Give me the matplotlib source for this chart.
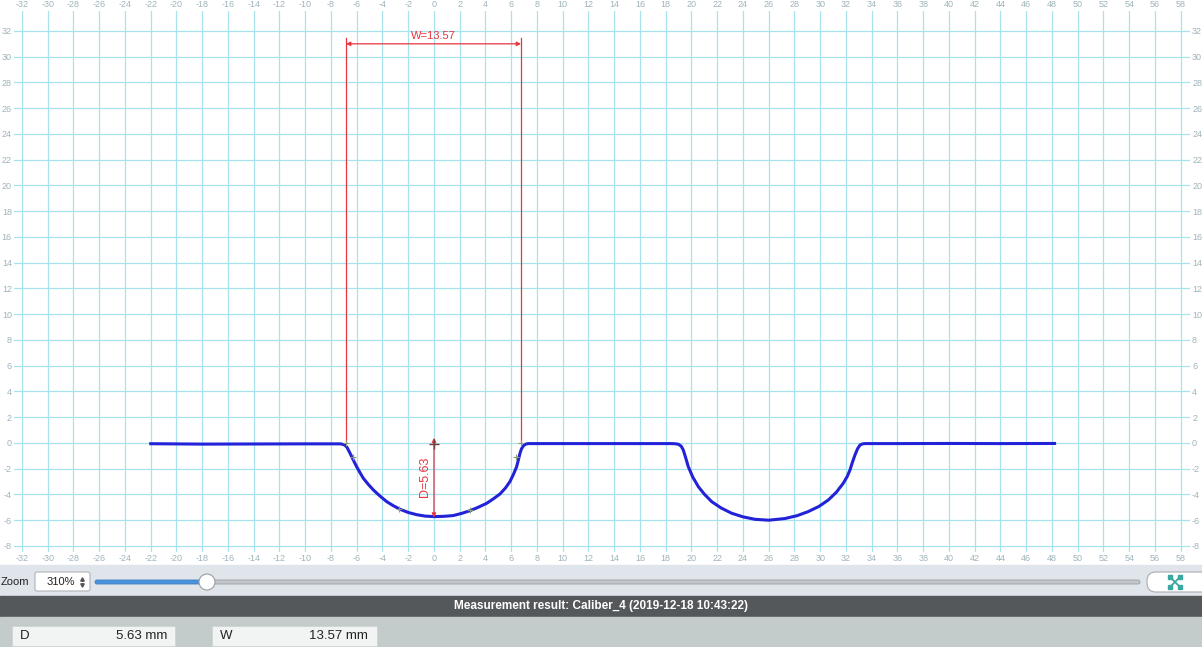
import matplotlib.pyplot as plt
import matplotlib.patches as patches

plt.rcParams['font.family'] = ['Liberation Sans', 'DejaVu Sans']
plt.rcParams['axes.unicode_minus'] = False

profile_x = [-22.0, -18.0, -14.0, -10.0, -7.6, -7.3, -7.1, -6.91, -6.75, -6.52, -6.28,
             -6.01, -5.75, -5.49, -5.1, -4.71, -4.2, -3.67, -3.15, -2.64, -2.0, -1.35,
             -0.7, 0.0, 0.75, 1.5, 2.15, 2.8, 3.45, 4.09, 4.6, 5.13, 5.55, 5.9, 6.18,
             6.42, 6.56, 6.68, 6.8, 6.94, 7.1, 7.32, 10.0, 14.0, 18.4, 18.7, 18.98,
             19.2, 19.36, 19.55, 19.75, 20.1, 20.53, 21.0, 21.57, 22.3, 23.12, 24.0,
             24.93, 26.0, 27.26, 28.2, 29.07, 29.9, 30.63, 31.25, 31.79, 32.1, 32.31,
             32.5, 32.7, 32.9, 33.09, 33.3, 33.48, 36.0, 40.0, 44.0, 48.2]
profile_y = [-0.06, -0.09, -0.08, -0.07, -0.07, -0.07, -0.1, -0.18, -0.35, -0.8, -1.3,
             -1.84, -2.3, -2.74, -3.22, -3.65, -4.12, -4.56, -4.88, -5.15, -5.4, -5.57,
             -5.68, -5.72, -5.7, -5.64, -5.47, -5.26, -4.99, -4.69, -4.35, -3.96, -3.5,
             -3.0, -2.42, -1.84, -1.3, -0.8, -0.45, -0.23, -0.1, -0.05, -0.05, -0.05,
             -0.05, -0.06, -0.1, -0.25, -0.54, -1.15, -1.84, -2.65, -3.39, -3.98, -4.56,
             -5.05, -5.46, -5.74, -5.93, -6.0, -5.87, -5.65, -5.33, -4.93, -4.43, -3.83,
             -3.13, -2.6, -2.1, -1.5, -0.93, -0.45, -0.16, -0.07, -0.05, -0.05, -0.04,
             -0.05, -0.04]

# measurement results
D = 5.63
W = 13.57
w_left = -6.83
w_right = 6.76
w_level = 31.0
d_top = 0.4
d_bottom = -5.8
marks_x = [-6.84, -6.3, -2.75, 2.8, 6.4, 6.76]
marks_y = [0.0, -1.1, -5.1, -5.2, -1.1, 0.0]

x_ticks = list(range(-32, 59, 2))
y_ticks = list(range(-8, 33, 2))

red = '#e8343f'
grid_col = '#a8e2ec'
lab_col = '#9fb4ba'

fig = plt.figure(figsize=(12.02, 6.47), dpi=100)

# ui strip at the bottom, pixel coordinates
ui = fig.add_axes([0, 0, 1, 1])
ui.set_xlim(0, 1202)
ui.set_ylim(647, 0)
ui.axis('off')
ui.add_patch(patches.Rectangle((0, 565), 1202, 31, color='#dfe5ea'))
ui.add_patch(patches.Rectangle((0, 596), 1202, 21, color='#55585b'))
ui.add_patch(patches.Rectangle((0, 617), 1202, 30, color='#c4cbcb'))
ui.text(1, 582, 'Zoom', fontsize=8, va='center', ha='left', color='#222222')
ui.add_patch(patches.FancyBboxPatch((35, 572), 55, 19, boxstyle='round,pad=0,rounding_size=2',
                                    fc='white', ec='#b0b4b8', lw=0.8))
ui.text(47, 582, '310%', fontsize=8, va='center', ha='left', color='#222222')
ui.plot([82], [579], marker='^', ms=2.5, color='#555555')
ui.plot([82], [585], marker='v', ms=2.5, color='#555555')
ui.add_patch(patches.FancyBboxPatch((205, 580), 935, 4, boxstyle='round,pad=0,rounding_size=2',
                                    fc='#c2c6ca', ec='#9a9ea2', lw=0.6))
ui.add_patch(patches.FancyBboxPatch((95, 580), 112, 4, boxstyle='round,pad=0,rounding_size=2',
                                    fc='#4a92dc', ec='#3f7fc0', lw=0.6))
ui.add_patch(patches.Circle((207, 582), 8, fc='white', ec='#9a9ea2', lw=0.8, zorder=5))
ui.add_patch(patches.FancyBboxPatch((1147, 572), 70, 20, boxstyle='round,pad=0,rounding_size=9',
                                    fc='white', ec='#a8acb0', lw=0.8))
ui.plot([1170, 1180], [577, 587], color='#3aa7a0', lw=1.3)
ui.plot([1170, 1180], [587, 577], color='#3aa7a0', lw=1.3)
ui.plot([1170, 1180, 1170, 1180], [577, 577, 587, 587], 's', ms=2.5, color='#3aa7a0')
ui.text(601, 606.5, 'Measurement result: Caliber_4 (2019-12-18 10:43:22)', fontsize=8.5,
        fontweight='bold', color='white', ha='center', va='center')
ui.add_patch(patches.Rectangle((12, 626), 163, 20, fc='#f2f3f3', ec='#d0d4d4', lw=0.6))
ui.add_patch(patches.Rectangle((212, 626), 165, 20, fc='#f2f3f3', ec='#d0d4d4', lw=0.6))
ui.text(20, 636, 'D', fontsize=9.5, va='center', color='#222222')
ui.text(167, 636, '%.2f mm' % D, fontsize=9.5, va='center', ha='right', color='#222222')
ui.text(220, 636, 'W', fontsize=9.5, va='center', color='#222222')
ui.text(368, 636, '%.2f mm' % W, fontsize=9.5, va='center', ha='right', color='#222222')

# profile plot
ax = fig.add_axes([14 / 1202, 95 / 647, 1176 / 1202, 541 / 647])
ax.set_xlim(-32.62, 58.72)
ax.set_ylim(-8.47, 33.55)
ax.set_xticks(x_ticks)
ax.set_yticks(y_ticks)
ax.grid(True, color=grid_col, lw=0.9)
ax.set_axisbelow(True)
for s in ax.spines.values():
    s.set_visible(False)
ax.tick_params(axis='x', top=True, labeltop=True, length=0, pad=1.2, labelsize=6.5, colors=lab_col)
ax.tick_params(axis='y', right=True, labelright=True, length=0, pad=1.5, labelsize=6.5, colors=lab_col)

ax.plot(profile_x, profile_y, color='#2222d8', lw=2.2, zorder=3)
ax.plot(marks_x, marks_y, '+', color='#8a9a7a', ms=4, mew=0.8, zorder=4)

# width
ax.plot([w_left, w_left], [0, w_level + 0.45], color=red, lw=0.9, zorder=2)
ax.plot([w_right, w_right], [0, w_level + 0.45], color=red, lw=0.9, zorder=2)
ax.annotate('', xy=(w_left, w_level), xytext=(w_right, w_level),
            arrowprops=dict(arrowstyle='<|-|>', color=red, lw=0.9, mutation_scale=6,
                            shrinkA=0, shrinkB=0))
ax.text((w_left + w_right) / 2, w_level + 0.25, 'W=%.2f' % W, color=red, fontsize=8,
        ha='center', va='bottom')

# depth
ax.annotate('', xy=(0, d_top), xytext=(0, d_bottom),
            arrowprops=dict(arrowstyle='<|-|>', color=red, lw=0.9, mutation_scale=6,
                            shrinkA=0, shrinkB=0), zorder=5)
ax.plot([0], [-0.05], '+', color='#7a3a3a', ms=7, mew=1.0, zorder=6)
ax.text(-0.2, -2.65, 'D=%.2f' % D, color=red, fontsize=9, rotation=90,
        ha='right', va='center')

fig.savefig('out.png', dpi=100)
